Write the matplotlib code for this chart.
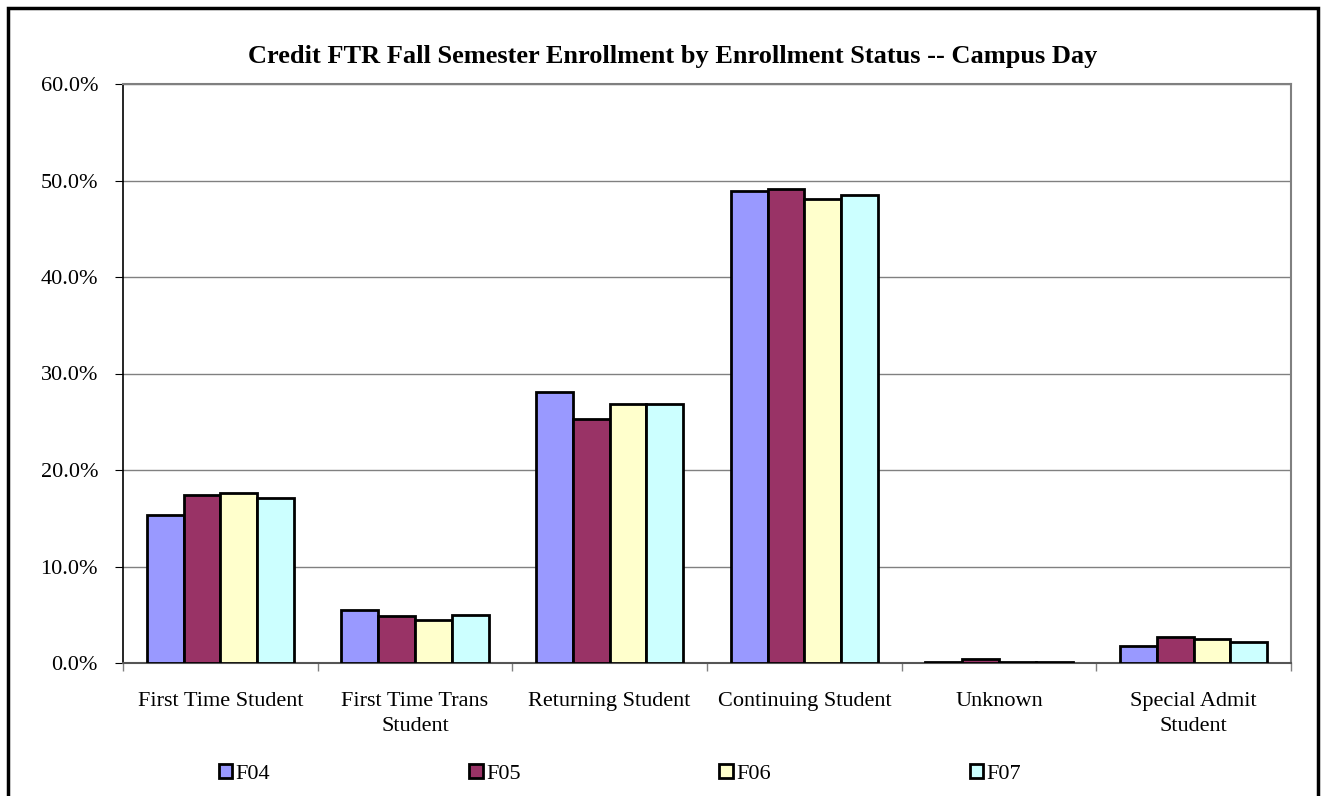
import matplotlib
matplotlib.use("Agg")
import matplotlib.pyplot as plt
import numpy as np
from matplotlib.patches import Rectangle
from matplotlib.ticker import FuncFormatter, FixedLocator

categories = ["First Time Student", "First Time Trans\nStudent", "Returning Student",
              "Continuing Student", "Unknown", "Special Admit\nStudent"]
series_names = ["F04", "F05", "F06", "F07"]
F04 = [15.3, 5.5, 28.1, 48.9, 0.1, 1.8]
F05 = [17.4, 4.9, 25.3, 49.1, 0.4, 2.7]
F06 = [17.6, 4.5, 26.8, 48.1, 0.15, 2.5]
F07 = [17.1, 5.0, 26.8, 48.5, 0.1, 2.2]
colors = ["#9999FF", "#993366", "#FFFFCC", "#CCFFFF"]

plt.rcParams['font.family'] = ['Liberation Serif', 'DejaVu Serif']

fig = plt.figure(figsize=(13.21, 7.96), dpi=100)
ax = fig.add_axes([123/1321, 1 - 663/796, (1291-123)/1321, (663-84)/796])

x = np.arange(len(categories))
w = 0.189
data = [F04, F05, F06, F07]
for i, (vals, c, n) in enumerate(zip(data, colors, series_names)):
    ax.bar(x + (i - 1.5) * w, vals, w, color=c, edgecolor='black', linewidth=2, label=n, zorder=3)

ax.set_xlim(-0.5, len(categories) - 0.5)
ax.set_ylim(0, 60)
ax.set_yticks(np.arange(0, 61, 10))
ax.yaxis.set_major_formatter(FuncFormatter(lambda v, p: f"{v:.1f}%"))
ax.yaxis.grid(True, color='#808080', linewidth=1, zorder=0)
ax.set_axisbelow(True)

ax.xaxis.set_major_locator(FixedLocator(np.arange(-0.5, len(categories), 1.0)))
ax.xaxis.set_major_formatter(FuncFormatter(lambda v, p: ""))
ax.xaxis.set_minor_locator(FixedLocator(x))
ax.set_xticklabels(categories, minor=True, linespacing=1.45)
ax.tick_params(axis='x', which='minor', length=0, pad=21, labelsize=16)
ax.tick_params(axis='x', which='major', length=6, direction='out', color='#808080', width=1)
ax.tick_params(axis='y', length=6, direction='out', labelsize=16, pad=12, color='black')

for s in ['top', 'right']:
    ax.spines[s].set_color('#808080')
    ax.spines[s].set_linewidth(1.5)
ax.spines['left'].set_color('black')
ax.spines['left'].set_linewidth(1.2)
ax.spines['bottom'].set_color('#555555')
ax.spines['bottom'].set_linewidth(1.5)

fig.text(0.5 * (244 + 1102) / 1321, 1 - 56/796,
         "Credit FTR Fall Semester Enrollment by Enrollment Status -- Campus Day",
         ha='center', va='center', fontsize=19, fontweight='bold')

leg = fig.legend(loc='center', bbox_to_anchor=(620/1321, 1 - 774/796), ncol=4, frameon=False,
                 fontsize=16, handlelength=0.6, handleheight=0.6, handletextpad=0.15,
                 columnspacing=8.95)

fig.patches.append(Rectangle((8/1321, -0.05), (1318-8)/1321, 1 - 8/796 + 0.05,
                             transform=fig.transFigure, fill=False, edgecolor='black',
                             linewidth=2.5))

fig.savefig("out.png", dpi=100)
